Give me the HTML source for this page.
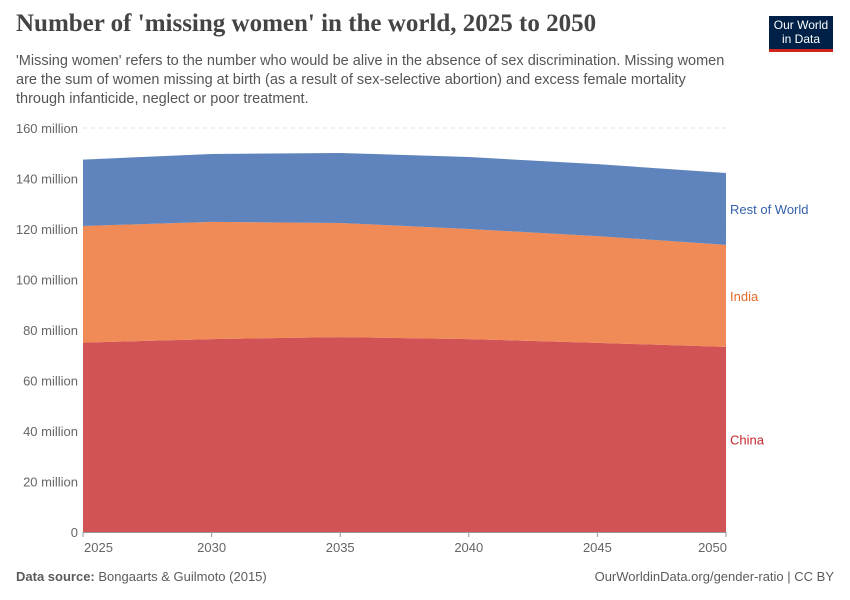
<!DOCTYPE html>
<html><head><meta charset="utf-8"><style>
body{margin:0;background:#fff;font-family:"Liberation Sans",sans-serif;}
#wrap{position:relative;width:850px;height:600px;overflow:hidden;}
.t{position:absolute;white-space:nowrap;}
</style></head><body>
<div id="wrap">
<div class="t" style="left:16px;top:10px;font-family:'Liberation Serif',serif;font-size:25px;font-weight:bold;color:#444;">Number of 'missing women' in the world, 2025 to 2050</div>
<div class="t" style="left:16px;top:52px;font-size:14.5px;line-height:19px;color:#555;white-space:normal;width:712px;">'Missing women' refers to the number who would be alive in the absence of sex discrimination. Missing women are the sum of women missing at birth (as a result of sex-selective abortion) and excess female mortality through infanticide, neglect or poor treatment.</div>
<div style="position:absolute;left:769px;top:16px;width:64px;height:36px;background:#002147;border-bottom:3px solid #ce261e;color:#fff;font-size:12px;line-height:14px;text-align:center;padding-top:2px;box-sizing:border-box;">Our World<br>in Data</div>
<svg id="chart" width="850" height="600" style="position:absolute;left:0;top:0"></svg>
<div class="t" style="left:16px;top:569px;font-size:13px;color:#5b5b5b;"><b>Data source:</b> Bongaarts &amp; Guilmoto (2015)</div>
<div class="t" style="right:16px;top:569px;font-size:13px;color:#5b5b5b;">OurWorldinData.org/gender-ratio | CC BY</div>
</div>
<script>
const years=[2025,2030,2035,2040,2045,2050];
const china=[75.0,76.4,77.2,76.4,74.9,73.3];
const india=[46.2,46.4,45.2,43.6,42.3,40.4];
const rest=[26.3,26.9,27.7,28.5,28.5,28.5];
const yTicks=[0,20,40,60,80,100,120,140,160];
const yTickLabels=["0","20 million","40 million","60 million","80 million","100 million","120 million","140 million","160 million"];
const seriesNames=["China","India","Rest of World"];
const svg=document.getElementById('chart');const NS="http://www.w3.org/2000/svg";
const x=v=>83+(v-2025)/25*643;
const y=v=>532-v*404/160;
function mk(t,a,p){const e=document.createElementNS(NS,t);for(const k in a)e.setAttribute(k,a[k]);(p||svg).appendChild(e);return e;}
yTicks.forEach((v,i)=>{
 if(v>0){const l=mk('line',{x1:83,x2:726,y1:y(v),y2:y(v),stroke:'#ddd','stroke-dasharray':'4,4'});
 
 }
 const t=mk('text',{x:78,y:y(v)+5,'text-anchor':'end','font-size':13,fill:'#666','font-family':'Liberation Sans'});t.textContent=yTickLabels[i];
 
 
});
const series=[china,india,rest];const colors=['#d14d50','#ef8651','#5a7fba'];const lcol=['#c2272d','#e6692a','#3360a9'];
let base=years.map(()=>0);
series.forEach((s,si)=>{
 const top=base.map((b,i)=>b+s[i]);
 let d='M'+years.map((yr,i)=>x(yr)+','+y(top[i])).join(' L');
 for(let i=years.length-1;i>=0;i--)d+=' L'+x(years[i])+','+y(base[i]);
 const p=mk('path',{d:d+'Z',fill:colors[si],opacity:0.97});
 
 
 const n=years.length-1;const t=mk('text',{x:730,y:y((base[n]+top[n])/2)+5,'font-size':13,fill:lcol[si],'font-family':'Liberation Sans'});t.textContent=seriesNames[si];
 
 
 base=top;
});
const ax=mk('line',{x1:83,x2:726,y1:532.5,y2:532.5,stroke:'#999'});


years.forEach(yr=>{
 const tk=mk('line',{x1:x(yr),x2:x(yr),y1:532,y2:537,stroke:'#999'});
 
 
 const anc=yr===2025?'start':yr===2050?'end':'middle';
 const t=mk('text',{x:yr===2025?x(yr)+1:yr===2050?x(yr)+1:x(yr),y:552,'text-anchor':anc,'font-size':13,fill:'#666','font-family':'Liberation Sans'});t.textContent=yr;
 
 
});
</script>
</body></html>
